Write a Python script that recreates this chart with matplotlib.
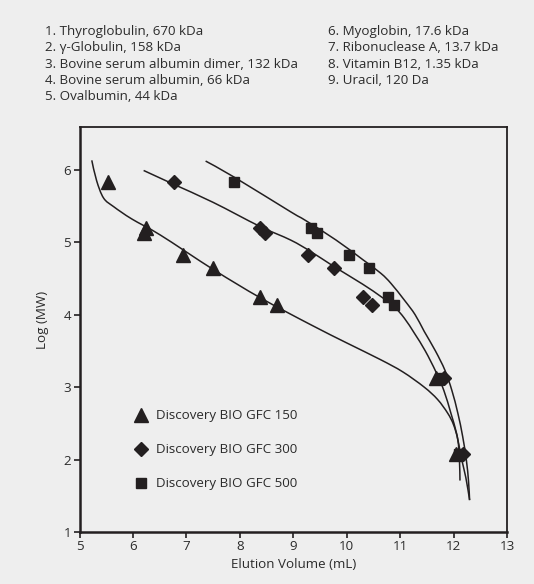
import matplotlib
matplotlib.use("Agg")
import matplotlib.pyplot as plt
from matplotlib.path import Path
from matplotlib.patches import PathPatch

plt.rcParams['font.family'] = ['Open Sans', 'DejaVu Sans']

# ---- data ----
log_mw = [5.826, 5.199, 5.121, 4.820, 4.643, 4.246, 4.137, 3.130, 2.079]
vol_150 = [5.54, 6.25, 6.20, 6.93, 7.50, 8.38, 8.70, 11.67, 12.05]
vol_300 = [6.76, 8.37, 8.47, 9.28, 9.77, 10.30, 10.47, 11.83, 12.17]
vol_500 = [7.89, 9.34, 9.44, 10.05, 10.41, 10.77, 10.89, 11.76, 12.10]

curve150_x = [5.23, 5.32, 5.45, 5.64, 5.98, 6.51, 7.51, 8.39, 9.33, 10.00, 10.63, 11.05, 11.45, 11.70, 11.89, 12.00, 12.08, 12.11, 12.12]
curve150_y = [6.13, 5.85, 5.61, 5.49, 5.32, 5.10, 4.62, 4.23, 3.86, 3.61, 3.38, 3.21, 3.00, 2.83, 2.64, 2.48, 2.27, 2.00, 1.71]
curve300_x = [6.20, 6.76, 7.50, 8.37, 8.95, 9.33, 9.77, 10.30, 10.64, 10.89, 11.08, 11.27, 11.47, 11.67, 11.82, 11.95, 12.06, 12.14, 12.23, 12.30]
curve300_y = [5.99, 5.80, 5.55, 5.22, 5.03, 4.87, 4.66, 4.42, 4.25, 4.11, 3.95, 3.74, 3.50, 3.21, 2.95, 2.64, 2.35, 2.04, 1.75, 1.44]
curve500_x = [7.36, 7.89, 8.95, 9.23, 9.80, 10.30, 10.64, 10.83, 11.08, 11.28, 11.45, 11.66, 11.84, 11.97, 12.08, 12.17, 12.24, 12.28, 12.30]
curve500_y = [6.12, 5.90, 5.42, 5.30, 5.03, 4.76, 4.57, 4.43, 4.20, 4.00, 3.77, 3.50, 3.23, 2.95, 2.64, 2.32, 1.99, 1.70, 1.44]

labels_left = ["1. Thyroglobulin, 670 kDa", "2. \u03b3-Globulin, 158 kDa",
               "3. Bovine serum albumin dimer, 132 kDa", "4. Bovine serum albumin, 66 kDa",
               "5. Ovalbumin, 44 kDa"]
labels_right = ["6. Myoglobin, 17.6 kDa", "7. Ribonuclease A, 13.7 kDa",
                "8. Vitamin B12, 1.35 kDa", "9. Uracil, 120 Da"]
series_names = ["Discovery BIO GFC 150", "Discovery BIO GFC 300", "Discovery BIO GFC 500"]

# ---- style ----
bg = '#eeeeee'
ink = '#231f20'
txt = '#2b2b2b'
fs = 9.6
W, H = 534, 584
fig = plt.figure(figsize=(W/100, H/100), dpi=100, facecolor=bg)
ax = fig.add_axes([79.5/W, 1-532/H, (507-79.5)/W, (532-127)/H], facecolor=bg)
ax.set_xlim(5, 13)
ax.set_ylim(1, 6.59)


def smooth_path(xs, ys):
    """Catmull-Rom through the read points, drawn as cubic Bezier segments in display space."""
    pts = ax.transData.transform(list(zip(xs, ys)))
    n = len(pts)
    verts = [pts[0]]
    codes = [Path.MOVETO]
    for i in range(n - 1):
        p0 = pts[i - 1] if i > 0 else pts[i]
        p1 = pts[i]
        p2 = pts[i + 1]
        p3 = pts[i + 2] if i + 2 < n else pts[i + 1]
        c1 = p1 + (p2 - p0) / 6.0
        c2 = p2 - (p3 - p1) / 6.0
        verts += [c1, c2, p2]
        codes += [Path.CURVE4] * 3
    return Path(verts, codes)


for cx, cy in [(curve150_x, curve150_y), (curve300_x, curve300_y), (curve500_x, curve500_y)]:
    p = smooth_path(cx, cy)
    ax.add_patch(PathPatch(p, transform=None, fill=False, edgecolor=ink, lw=1.1, zorder=2))

ax.plot(vol_150, log_mw, ls='none', marker='^', ms=10, color=ink, zorder=3)
ax.plot(vol_300, log_mw, ls='none', marker='D', ms=7, color=ink, zorder=3)
ax.plot(vol_500, log_mw, ls='none', marker='s', ms=7.5, color=ink, zorder=3)

ax.set_xticks(range(5, 14))
ax.set_yticks(range(1, 7))
ax.tick_params(direction='out', length=4, width=1.2, color=ink, labelsize=fs,
               labelcolor=txt, pad=2)
for s in ax.spines.values():
    s.set_color(ink)
    s.set_linewidth(1.3)
ax.spines['left'].set_linewidth(1.8)
ax.spines['bottom'].set_linewidth(1.8)

ax.set_xlabel("Elution Volume (mL)", fontsize=fs, color=txt, labelpad=3)
ax.set_ylabel("Log (MW)", fontsize=fs, color=txt)
ax.yaxis.set_label_coords(-(79.5 - 49) / (507 - 79.5), (532 - 320) / (532 - 127))

mk = ['^', 'D', 's']
ms = [10, 7, 7.5]
for i, name in enumerate(series_names):
    yp = 1 - (415 + 34*i) / H
    fig.lines.append(plt.Line2D([141/W], [yp], marker=mk[i], ms=ms[i], color=ink, ls='none',
                                transform=fig.transFigure, figure=fig))
    fig.text(156.5/W, yp, name, fontsize=fs, color=txt, va='center', ha='left')

for i, t in enumerate(labels_left):
    fig.text(45/W, 1 - (31 + 16.5*i)/H, t, fontsize=fs, color=txt, va='center')
for i, t in enumerate(labels_right):
    fig.text(328/W, 1 - (31 + 16.5*i)/H, t, fontsize=fs, color=txt, va='center')

fig.savefig("out.png", dpi=100, facecolor=bg)
